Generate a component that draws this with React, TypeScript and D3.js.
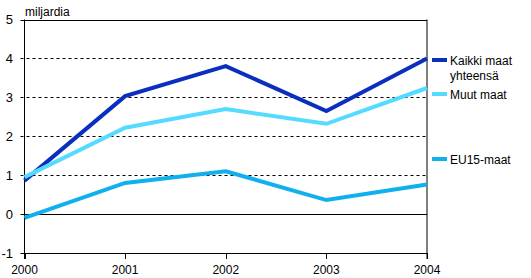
import React from "react";
import * as d3 from "d3";

const years = [2000, 2001, 2002, 2003, 2004];
const kaikki = [0.86, 3.03, 3.8, 2.65, 4.0];
const muut = [0.95, 2.22, 2.7, 2.32, 3.24];
const eu15 = [-0.1, 0.8, 1.1, 0.36, 0.76];
const yTicks = [-1, 0, 1, 2, 3, 4, 5];

const series = [
  { name: ["Kaikki maat", "yhteensä"], values: kaikki, color: "#0a2fbf" },
  { name: ["Muut maat"], values: muut, color: "#55dbff" },
  { name: ["EU15-maat"], values: eu15, color: "#0fb0ec" },
];

export default function App() {
  const W = 531, H = 278;
  const left = 24.5, right = 427, top = 19.5, bottom = 253;
  const x = d3.scaleLinear().domain([2000, 2004]).range([left, right]);
  const y = d3.scaleLinear().domain([-1, 5]).range([bottom, top]);
  const line = d3
    .line<number>()
    .x((_, i) => x(years[i]))
    .y((d) => y(d));
  const font = "'Liberation Sans', Arial, sans-serif";
  const legendY = [60, 94, 159];
  return (
    <svg
      width={W}
      height={H}
      style={{ position: "absolute", left: 0, top: 0, background: "#fff" }}
      fontFamily={font}
    >
      <rect x={0} y={0} width={W} height={H} fill="#fff" />
      {yTicks.map((t) => (
        <g key={t}>
          <line
            x1={left - 4}
            x2={right}
            y1={Math.round(y(t)) + 0.5}
            y2={Math.round(y(t)) + 0.5}
            stroke="#000"
            strokeWidth={1}
            strokeDasharray={t === -1 || t === 0 || t === 5 ? undefined : "3,3"}
          />
          <text
            x={13}
            y={y(t) + 4.5}
            textAnchor="end"
            fontSize={13}
            fill="#000"
          >
            {t}
          </text>
        </g>
      ))}
      <line x1={left} x2={left} y1={top} y2={bottom + 6} stroke="#000" />
      <line x1={right} x2={right} y1={top} y2={bottom + 6} stroke="#000" />
      {years.map((yr) => (
        <g key={yr}>
          <line
            x1={Math.round(x(yr)) + 0.5}
            x2={Math.round(x(yr)) + 0.5}
            y1={bottom}
            y2={bottom + 6}
            stroke="#000"
          />
          <text x={x(yr)} y={274} textAnchor="middle" fontSize={12} fill="#000">
            {yr}
          </text>
        </g>
      ))}
      <text x={25} y={16} fontSize={12} fill="#000">
        miljardia
      </text>
      {series.map((s) => (
        <path
          key={s.name[0]}
          d={line(s.values) || ""}
          fill="none"
          stroke={s.color}
          strokeWidth={4}
          strokeLinejoin="miter"
        />
      ))}
      {series.map((s, i) => (
        <g key={"l" + i}>
          <line
            x1={432}
            x2={447}
            y1={legendY[i]}
            y2={legendY[i]}
            stroke={s.color}
            strokeWidth={4}
          />
          {s.name.map((n, j) => (
            <text
              key={j}
              x={450}
              y={legendY[i] + 4.5 + j * 15}
              fontSize={12}
              fill="#000"
            >
              {n}
            </text>
          ))}
        </g>
      ))}
    </svg>
  );
}
